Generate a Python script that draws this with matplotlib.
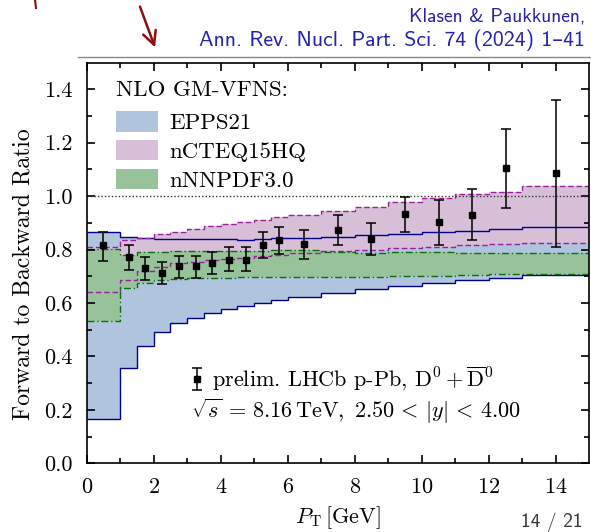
import matplotlib
matplotlib.use("Agg")
import matplotlib.pyplot as plt
import numpy as np
from matplotlib.patches import Patch
from matplotlib.lines import Line2D

plt.rcParams['font.family'] = ['cmr10', 'DejaVu Serif']
plt.rcParams['mathtext.fontset'] = 'cm'
plt.rcParams['axes.formatter.use_mathtext'] = True

# ---------------- data ----------------
edges = [0, 1, 1.5, 2, 2.5, 3, 3.5, 4, 4.5, 5, 5.5, 6, 7, 8, 9, 10, 11, 12, 13, 15]

epps_up = [0.866, 0.847, 0.844, 0.840, 0.840, 0.839, 0.838, 0.838, 0.837, 0.838,
           0.843, 0.844, 0.847, 0.854, 0.859, 0.865, 0.871, 0.877, 0.886]
epps_lo = [0.165, 0.356, 0.441, 0.492, 0.525, 0.545, 0.562, 0.577, 0.590, 0.600,
           0.610, 0.622, 0.639, 0.652, 0.665, 0.675, 0.686, 0.694, 0.706]

ncteq_up = [0.810, 0.834, 0.844, 0.859, 0.866, 0.878, 0.887, 0.896, 0.904, 0.912,
            0.921, 0.931, 0.943, 0.960, 0.977, 0.992, 1.007, 1.016, 1.037]
ncteq_lo = [0.643, 0.687, 0.718, 0.735, 0.748, 0.755, 0.760, 0.765, 0.769, 0.775,
            0.781, 0.787, 0.793, 0.800, 0.805, 0.811, 0.817, 0.821, 0.825]

nnpdf_up = [0.802, 0.781, 0.790, 0.792, 0.793, 0.793, 0.793, 0.794, 0.795, 0.796,
            0.797, 0.797, 0.790, 0.789, 0.791, 0.790, 0.787, 0.787, 0.787]
nnpdf_lo = [0.531, 0.656, 0.676, 0.687, 0.691, 0.693, 0.694, 0.695, 0.696, 0.697,
            0.697, 0.697, 0.697, 0.698, 0.700, 0.702, 0.705, 0.708, 0.710]

pt = [0.5, 1.25, 1.75, 2.25, 2.75, 3.25, 3.75, 4.25, 4.75, 5.25, 5.75, 6.5,
      7.5, 8.5, 9.5, 10.5, 11.5, 12.5, 14]
ratio = [0.816, 0.771, 0.730, 0.712, 0.737, 0.737, 0.750, 0.762, 0.762, 0.817,
         0.834, 0.821, 0.874, 0.840, 0.932, 0.902, 0.931, 1.104, 1.086]
ratio_hi = [0.866, 0.816, 0.772, 0.752, 0.777, 0.775, 0.791, 0.809, 0.809, 0.865,
            0.884, 0.875, 0.931, 0.900, 0.996, 0.986, 1.026, 1.253, 1.360]
ratio_lo = [0.756, 0.722, 0.685, 0.671, 0.694, 0.694, 0.710, 0.720, 0.720, 0.767,
            0.784, 0.765, 0.816, 0.781, 0.867, 0.816, 0.836, 0.954, 0.811]

labels = ["EPPS21", "nCTEQ15HQ", "nNNPDF3.0"]

# ---------------- styles ----------------
c_blue_f, c_blue_l = '#b0c4de', '#00008b'
c_pur_f, c_pur_l = '#d8bfd8', '#9a1f9a'
c_grn_f, c_grn_l = '#98c39a', '#0a6e0a'

W, H = 591, 532
fig = plt.figure(figsize=(W / 100, H / 100), dpi=100)
ax = fig.add_axes([0.1467, 0.129, 0.8504, 0.7535])

def fx(px):
    return px / W

def fy(py):
    return 1 - py / H

ax.stairs(epps_up, edges, baseline=epps_lo, fill=True, color=c_blue_f, lw=0)
ax.stairs(ncteq_up, edges, baseline=ncteq_lo, fill=True, color=c_pur_f, lw=0)
ax.stairs(nnpdf_up, edges, baseline=nnpdf_lo, fill=True, color=c_grn_f, lw=0)

for up, lo, col, ls in [(epps_up, epps_lo, c_blue_l, '-'),
                        (ncteq_up, ncteq_lo, c_pur_l, (0, (4, 2))),
                        (nnpdf_up, nnpdf_lo, c_grn_l, (0, (5, 2, 1, 2)))]:
    ax.stairs(up, edges, baseline=None, color=col, lw=1.0, ls=ls)
    ax.stairs(lo, edges, baseline=None, color=col, lw=1.0, ls=ls)

ax.axhline(1.0, color='#333333', lw=1.0, ls=(0, (1, 1.5)))

ratio_a = np.array(ratio)
yerr = [ratio_a - np.array(ratio_lo), np.array(ratio_hi) - ratio_a]
eb = ax.errorbar(pt, ratio, yerr=yerr, fmt='s', color='black', ms=4,
                 capsize=3.5, elinewidth=1.1, capthick=1.1, zorder=5)

ax.set_xlim(0, 15)
ax.set_ylim(0, 1.5)
ax.set_xticks(np.arange(0, 15, 2))
ax.set_xticks(np.arange(1, 15, 2), minor=True)
ax.set_yticks(np.arange(0, 1.41, 0.2))
ax.set_yticks(np.arange(0.1, 1.5, 0.2), minor=True)
ax.yaxis.set_major_formatter(matplotlib.ticker.FormatStrFormatter('%.1f'))
ax.tick_params(which='both', direction='in', top=True, right=True, width=1.2,
               labelsize=16)
ax.tick_params(axis='x', which='major', pad=10.5)
ax.tick_params(axis='y', which='major', pad=10)
ax.tick_params(which='major', length=6)
ax.tick_params(which='minor', length=3.5)
for s in ax.spines.values():
    s.set_linewidth(1.2)

ax.set_xlabel(r'$P_{\mathrm{T}}\,[\mathrm{GeV}]$', fontsize=16, labelpad=5)
ax.set_ylabel('Forward to Backward Ratio', fontsize=17)
ax.yaxis.set_label_coords(-0.103, 0.472)

# legend for the bands
fig.text(fx(116), fy(90), 'NLO GM-VFNS:', fontsize=16.5, ha='left', va='center')
handles = [Patch(facecolor=c, edgecolor='none') for c in (c_blue_f, c_pur_f, c_grn_f)]
leg1 = ax.legend(handles, labels, loc='upper left', frameon=False, fontsize=16.5,
                 handlelength=1.83, handleheight=1.0, labelspacing=0.3,
                 handletextpad=0.5, borderpad=0, borderaxespad=0,
                 bbox_to_anchor=(fx(116), fy(111)), bbox_transform=fig.transFigure)
ax.add_artist(leg1)

leg2 = ax.legend([eb], [r'prelim. LHCb p-Pb, $\mathrm{D}^0+\overline{\mathrm{D}}^0$'],
                 loc='upper left', bbox_to_anchor=(fx(190), fy(365)),
                 bbox_transform=fig.transFigure, frameon=False, borderpad=0,
                 borderaxespad=0, fontsize=16, handlelength=0.6,
                 handletextpad=0.39)
fig.text(fx(191), fy(418),
         r'$\sqrt{s}\,=\,8.16\,\mathrm{TeV},\ 2.50\,<\,|y|\,<\,4.00$',
         fontsize=16, va='baseline', ha='left')

# slide decorations
sans = ['cmss10', 'DejaVu Sans']
fig.text(fx(585), fy(17), 'Klasen & Paukkunen,', ha='right', va='center',
         fontsize=14, color='#2222aa', family=sans)
fig.text(fx(585), fy(40), 'Ann. Rev. Nucl. Part. Sci. 74 (2024) 1–41', ha='right',
         va='center', fontsize=15.7, color='#2222aa', family=sans)
fig.add_artist(Line2D([fx(78), 1.0], [fy(57)] * 2, color='#888888', lw=1.0))
fig.add_artist(Line2D([fx(35), fx(36)], [1.0, fy(8)], color='#8b1010', lw=1.5))
ax.annotate('', xy=(fx(156), fy(50)), xytext=(fx(139), fy(4)),
            xycoords='figure fraction', textcoords='figure fraction',
            arrowprops=dict(arrowstyle='->', color='#8b1010', lw=1.8,
                            mutation_scale=24))
fig.text(fx(521), fy(532), '14 / 21', ha='left', va='bottom', fontsize=14,
         color='#333333', family=sans)

fig.savefig('out.png', dpi=100)
